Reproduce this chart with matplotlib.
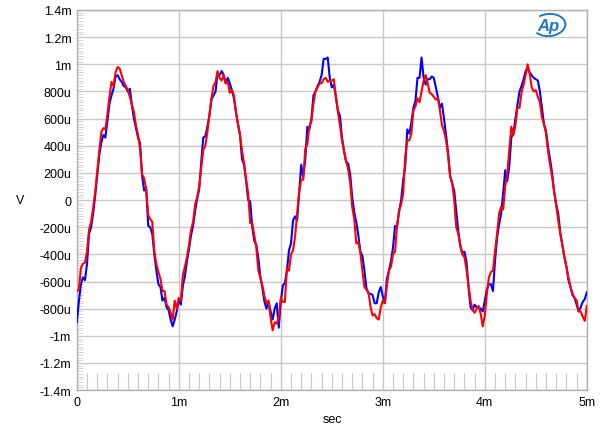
import numpy as np
import matplotlib
matplotlib.use("Agg")
import matplotlib.pyplot as plt
from matplotlib.patches import Arc

# sample spacing of the trace, in ms
step_ms = 0.02

# channel A (blue) in mV, one value per step
blue_mv = [
    -0.90, -0.75, -0.62, -0.57, -0.59, -0.47, -0.25, -0.20, -0.10, 0.03,
    0.18, 0.33, 0.42, 0.48, 0.46, 0.58, 0.71, 0.77, 0.82, 0.91,
    0.92, 0.89, 0.87, 0.84, 0.83, 0.80, 0.82, 0.70, 0.60, 0.53,
    0.46, 0.42, 0.18, 0.07, 0.09, -0.19, -0.20, -0.25, -0.40, -0.52,
    -0.62, -0.64, -0.74, -0.72, -0.79, -0.81, -0.88, -0.93, -0.88, -0.82,
    -0.73, -0.77, -0.63, -0.56, -0.45, -0.36, -0.26, -0.19, -0.08, 0.01,
    0.08, 0.28, 0.46, 0.47, 0.54, 0.62, 0.74, 0.77, 0.80, 0.93,
    0.92, 0.95, 0.92, 0.86, 0.90, 0.86, 0.81, 0.75, 0.65, 0.56,
    0.48, 0.30, 0.26, 0.14, 0.00, -0.01, -0.20, -0.30, -0.33, -0.43,
    -0.57, -0.65, -0.75, -0.80, -0.75, -0.82, -0.88, -0.80, -0.76, -0.94,
    -0.75, -0.63, -0.61, -0.52, -0.37, -0.32, -0.15, -0.12, -0.15, 0.05,
    0.26, 0.17, 0.30, 0.54, 0.52, 0.60, 0.77, 0.80, 0.84, 0.87,
    0.92, 1.04, 1.04, 1.05, 0.90, 0.83, 0.85, 0.76, 0.66, 0.62,
    0.46, 0.36, 0.28, 0.27, 0.19, 0.02, -0.09, -0.16, -0.26, -0.38,
    -0.41, -0.52, -0.65, -0.69, -0.69, -0.70, -0.76, -0.76, -0.68, -0.64,
    -0.71, -0.76, -0.58, -0.52, -0.45, -0.35, -0.19, -0.20, -0.08, 0.00,
    0.15, 0.25, 0.52, 0.49, 0.57, 0.68, 0.73, 0.90, 0.90, 1.05,
    0.90, 0.85, 0.89, 0.89, 0.91, 0.90, 0.83, 0.76, 0.68, 0.71,
    0.60, 0.48, 0.35, 0.18, 0.12, 0.07, -0.08, -0.23, -0.34, -0.39,
    -0.38, -0.45, -0.64, -0.79, -0.81, -0.77, -0.79, -0.79, -0.80, -0.82,
    -0.74, -0.66, -0.62, -0.62, -0.67, -0.45, -0.28, -0.18, -0.10, 0.05,
    0.22, 0.14, 0.25, 0.46, 0.49, 0.60, 0.70, 0.80, 0.84, 0.89,
    0.95, 0.97, 0.94, 0.92, 0.90, 0.89, 0.88, 0.80, 0.68, 0.56,
    0.51, 0.39, 0.30, 0.20, 0.06, -0.03, -0.10, -0.24, -0.33, -0.42,
    -0.49, -0.59, -0.64, -0.70, -0.72, -0.77, -0.82, -0.79, -0.75, -0.73,
    -0.68,
]

# channel B (red) in mV
red_mv = [
    -0.67, -0.66, -0.50, -0.47, -0.46, -0.38, -0.22, -0.16, -0.06, 0.06,
    0.21, 0.36, 0.50, 0.53, 0.52, 0.63, 0.76, 0.87, 0.84, 0.94,
    0.98, 0.97, 0.92, 0.87, 0.84, 0.81, 0.76, 0.70, 0.65, 0.55,
    0.48, 0.38, 0.19, 0.16, 0.08, -0.11, -0.14, -0.16, -0.38, -0.47,
    -0.53, -0.58, -0.67, -0.67, -0.77, -0.79, -0.83, -0.88, -0.74, -0.80,
    -0.72, -0.74, -0.55, -0.49, -0.42, -0.33, -0.22, -0.16, -0.03, 0.02,
    0.10, 0.24, 0.37, 0.40, 0.50, 0.63, 0.75, 0.84, 0.87, 0.95,
    0.90, 0.88, 0.92, 0.86, 0.87, 0.79, 0.81, 0.77, 0.65, 0.56,
    0.48, 0.36, 0.27, 0.15, 0.05, -0.17, -0.17, -0.26, -0.35, -0.52,
    -0.57, -0.63, -0.71, -0.76, -0.74, -0.87, -0.96, -0.90, -0.91, -0.86,
    -0.72, -0.75, -0.75, -0.50, -0.52, -0.40, -0.37, -0.27, -0.10, 0.06,
    0.15, 0.15, 0.38, 0.41, 0.54, 0.58, 0.71, 0.80, 0.83, 0.86,
    0.86, 0.89, 0.90, 0.87, 0.88, 0.88, 0.89, 0.76, 0.65, 0.55,
    0.44, 0.36, 0.29, 0.23, 0.13, -0.05, -0.14, -0.32, -0.31, -0.39,
    -0.52, -0.64, -0.66, -0.68, -0.79, -0.85, -0.84, -0.87, -0.88, -0.79,
    -0.74, -0.76, -0.63, -0.52, -0.49, -0.40, -0.38, -0.18, -0.08, -0.03,
    0.05, 0.32, 0.44, 0.44, 0.49, 0.66, 0.69, 0.75, 0.72, 0.80,
    0.88, 0.92, 0.86, 0.79, 0.78, 0.76, 0.74, 0.75, 0.66, 0.55,
    0.51, 0.44, 0.33, 0.17, 0.13, 0.00, -0.20, -0.25, -0.33, -0.40,
    -0.42, -0.51, -0.63, -0.74, -0.81, -0.83, -0.80, -0.78, -0.84, -0.93,
    -0.85, -0.69, -0.57, -0.53, -0.52, -0.38, -0.25, -0.10, -0.05, -0.07,
    0.10, 0.19, 0.37, 0.54, 0.48, 0.55, 0.68, 0.68, 0.79, 0.85,
    0.92, 1.00, 0.93, 0.83, 0.80, 0.81, 0.76, 0.72, 0.61, 0.56,
    0.49, 0.36, 0.26, 0.17, 0.06, -0.04, -0.15, -0.25, -0.33, -0.42,
    -0.49, -0.57, -0.64, -0.69, -0.72, -0.74, -0.82, -0.82, -0.86, -0.89,
    -0.78,
]

y_ticks = [1.4e-3, 1.2e-3, 1e-3, 800e-6, 600e-6, 400e-6, 200e-6, 0,
           -200e-6, -400e-6, -600e-6, -800e-6, -1e-3, -1.2e-3, -1.4e-3]
y_labels = ["1.4m", "1.2m", "1m", "800u", "600u", "400u", "200u", "0",
            "-200u", "-400u", "-600u", "-800u", "-1m", "-1.2m", "-1.4m"]
x_ticks = [0, 1e-3, 2e-3, 3e-3, 4e-3, 5e-3]
x_labels = ["0", "1m", "2m", "3m", "4m", "5m"]

plt.rcParams['font.family'] = ['Liberation Sans', 'DejaVu Sans']

t = np.arange(len(blue_mv)) * step_ms * 1e-3
blue = np.array(blue_mv) * 1e-3
red = np.array(red_mv) * 1e-3

fig = plt.figure(figsize=(6.0, 4.39), dpi=100)
ax = fig.add_axes([0.128, 0.109, 0.85, 0.866])

ax.plot(t, blue, color='#0000ff', lw=1.5, zorder=3)
ax.plot(t, red, color='#ff0000', lw=1.5, zorder=4)

ax.set_xlim(0, 5e-3)
ax.set_ylim(-1.4e-3, 1.4e-3)
ax.set_yticks(y_ticks)
ax.set_yticklabels(y_labels)
ax.set_xticks(x_ticks)
ax.set_xticklabels(x_labels)
ax.set_xticks(np.arange(0, 5.01e-3, 0.1e-3), minor=True)
ax.set_yticks(np.arange(-1.4e-3, 1.401e-3, 0.02e-3), minor=True)

ax.grid(True, which='major', color='#c8c8c8', lw=1.0, zorder=1)
ax.tick_params(which='major', length=0, labelsize=9, pad=4, colors='black')
ax.tick_params(axis='x', which='minor', direction='in', length=12,
               color='#c8c8c8', width=0.8)
ax.tick_params(axis='y', which='minor', direction='in', length=4,
               color='#d0d0d0', width=0.6)
for s in ax.spines.values():
    s.set_color('#b0b0b0')
    s.set_linewidth(1.0)

fig.text(20 / 600, 1 - 201 / 439, "V", fontsize=9, ha='center', va='center')
fig.text(332 / 600, 1 - 420 / 439, "sec", fontsize=9, ha='center', va='center')

# Ap logo, top right
fig.text(548 / 600, 1 - 26 / 439, "Ap", fontsize=12, style='italic',
         weight='bold', color='#1f78c1', ha='center', va='center')
logo = Arc((549 / 600, 1 - 26 / 439), 0.055, 0.05, angle=20, theta1=200,
           theta2=470, transform=fig.transFigure, color='#1f78c1', lw=1.4)
fig.add_artist(logo)

fig.savefig("out.png", dpi=100)
